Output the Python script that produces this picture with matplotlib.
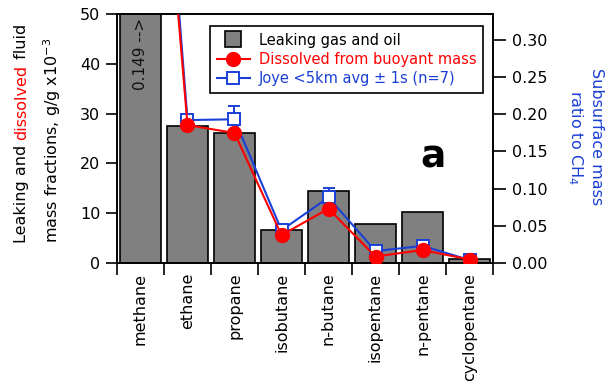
import numpy as np
import matplotlib
matplotlib.use("Agg")
import matplotlib.pyplot as plt
from matplotlib.lines import Line2D

# Gas components and mass fractions (g/g x 1e-3)
compounds = ['methane', 'ethane', 'propane', 'isobutane', 'n-butane',
             'isopentane', 'n-pentane', 'cyclopentane']
leaking = [149.0, 27.6, 26.1, 6.7, 14.5, 7.8, 10.3, 0.8]
dissolved = [140.0, 27.7, 26.1, 5.6, 10.9, 1.3, 2.6, 0.7]

# Joye subsurface samples, mass ratio to CH4 (upper error only)
joye = [1.0, 0.192, 0.193, 0.044, 0.088, 0.016, 0.023, 0.004]
joye_err = [0.0, 0.0, 0.018, 0.0, 0.013, 0.0, 0.0, 0.0]

left_ticks = [0, 10, 20, 30, 40, 50]
right_ticks = [0.00, 0.05, 0.10, 0.15, 0.20, 0.25, 0.30]

RED = '#ff0000'
BLUE = '#1a3fd6'
GRAY = '#808080'

W, H = 609, 386
fig = plt.figure(figsize=(W / 100, H / 100), dpi=100)
ax = fig.add_axes([117 / W, 1 - 263 / H, 376 / W, 249 / H])
ax2 = ax.twinx()          # ratio to CH4 (right scale)
ax3 = ax.twinx()          # overlay for the dissolved line, same scale as ax

x = np.arange(len(compounds))

ax.bar(x, leaking, width=0.88, color=GRAY, edgecolor='black', linewidth=1.2)

ax2.errorbar(x, joye, yerr=[np.zeros(len(joye)), joye_err], color=BLUE, lw=1.5,
             marker='s', ms=9, mfc='white', mec=BLUE, mew=1.4,
             capsize=4, capthick=1.4, elinewidth=1.4)

ax3.plot(x, dissolved, color=RED, lw=1.5, marker='o', ms=10, mec=RED)

ax.set_xlim(-0.5, len(compounds) - 0.5)
ax.set_ylim(0, 50)
ax2.set_ylim(0, 50 / 149.5)
ax3.set_ylim(0, 50)
ax3.axis('off')

ax.set_yticks(left_ticks)
ax2.set_yticks(right_ticks)
ax2.set_yticklabels([f'{v:.2f}' for v in right_ticks])

ax.set_xticks(x)
ax.set_xticklabels(compounds, rotation=90)
ax.set_xticks(np.arange(-0.5, len(compounds)), minor=True)
ax.tick_params(axis='x', which='major', length=0, pad=7, labelsize=11.5)
ax.tick_params(axis='x', which='minor', length=8.5, width=1.2, direction='out')
ax.tick_params(axis='y', length=8, width=1.2, direction='out', labelsize=11.5, pad=4)
ax2.tick_params(axis='y', length=9.5, width=1.2, direction='out', labelsize=11.5, pad=4)

for a in (ax, ax2):
    for s in a.spines.values():
        s.set_linewidth(1.2)

ax3.text(0, 49.2, '0.149 -->', rotation=90, ha='center', va='top', fontsize=11,
         color='#111111')
ax3.text(0.84, 0.425, 'a', transform=ax3.transAxes, fontsize=27, fontweight='bold',
         ha='center', va='center')

handles = [
    Line2D([], [], ls='none', marker='s', ms=11, mfc=GRAY, mec='black', mew=1.2),
    Line2D([], [], color=RED, lw=1.5, marker='o', ms=10, mec=RED),
    Line2D([], [], color=BLUE, lw=1.5, marker='s', ms=9, mfc='white', mec=BLUE, mew=1.4),
]
labels = ['Leaking gas and oil', 'Dissolved from buoyant mass',
          'Joye <5km avg \u00b1 1s (n=7)']
leg = ax3.legend(handles, labels, loc='upper right',
                 bbox_to_anchor=(483 / W, 1 - 26 / H), bbox_transform=fig.transFigure,
                 borderaxespad=0, fontsize=10.5, frameon=True, fancybox=False,
                 edgecolor='black', framealpha=1, handlelength=2.3,
                 handletextpad=0.6, labelspacing=0.3, borderpad=0.45)
leg.get_frame().set_linewidth(1.2)
for t, c in zip(leg.get_texts(), ['black', RED, BLUE]):
    t.set_color(c)

# left axis title, with "dissolved" in red
t1 = fig.text(22 / W, 1 - 243 / H, 'Leaking and ', rotation=90, ha='center',
              va='bottom', fontsize=11.5)
t2 = fig.text(0, 0, 'dissolved', rotation=90, ha='center', va='bottom',
              fontsize=11.5, color=RED)
t3 = fig.text(0, 0, ' fluid', rotation=90, ha='center', va='bottom', fontsize=11.5)
fig.canvas.draw()
r = fig.canvas.get_renderer()
inv = fig.transFigure.inverted()
bb1 = t1.get_window_extent(r)
t2.set_position(inv.transform((bb1.x0 + bb1.width / 2, bb1.y1)))
bb2 = t2.get_window_extent(r)
t3.set_position(inv.transform((bb2.x0 + bb2.width / 2, bb2.y1)))
fig.text(52 / W, 1 - 140 / H, 'mass fractions, g/g x10$^{-3}$', rotation=90,
         ha='center', va='center', fontsize=11.5)

# right axis title
fig.text(597 / W, 1 - 137 / H, 'Subsurface mass', rotation=270, ha='center',
         va='center', fontsize=11.5, color=BLUE)
fig.text(575 / W, 1 - 137 / H, 'ratio to CH$_4$', rotation=270, ha='center',
         va='center', fontsize=11.5, color=BLUE)

fig.savefig('out.png', dpi=100)
